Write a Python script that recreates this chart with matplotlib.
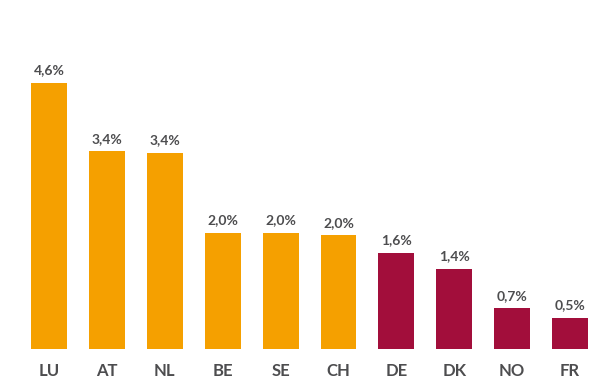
import matplotlib.pyplot as plt

plt.rcParams['font.family'] = ['Lato', 'DejaVu Sans']

countries = ['LU', 'AT', 'NL', 'BE', 'SE', 'CH', 'DE', 'DK', 'NO', 'FR']
values = [4.6, 3.42, 3.39, 2.01, 2.01, 1.97, 1.66, 1.39, 0.70, 0.54]
value_labels = ['4,6%', '3,4%', '3,4%', '2,0%', '2,0%', '2,0%', '1,6%', '1,4%', '0,7%', '0,5%']
groups = ['hi', 'hi', 'hi', 'hi', 'hi', 'hi', 'lo', 'lo', 'lo', 'lo']

ORANGE = '#F5A000'
CRIMSON = '#A20E3B'
TEXT = '#4d4d4f'

W, H = 612, 387
fig = plt.figure(figsize=(W / 100, H / 100), dpi=100)
base_px = 349
unit_px = 57.9
ax = fig.add_axes([0, (H - base_px) / H, 1, base_px / H])

colors = [ORANGE if g == 'hi' else CRIMSON for g in groups]
x = list(range(len(countries)))
bars = ax.bar(x, values, width=0.62, color=colors)

for b, lab in zip(bars, value_labels):
    ax.annotate(lab, (b.get_x() + b.get_width() / 2, b.get_height()),
                xytext=(0, 6), textcoords='offset points',
                ha='center', va='baseline', fontsize=10, fontweight='bold',
                color=TEXT)

ax.set_xlim(-49 / unit_px, (W - 49) / unit_px)
ax.set_ylim(0, base_px / unit_px)
ax.set_xticks(x)
ax.set_xticklabels(countries, fontsize=12, fontweight='bold', color=TEXT)
ax.tick_params(axis='x', length=0, pad=10)
ax.set_yticks([])
for s in ax.spines.values():
    s.set_visible(False)

fig.savefig('out.png', dpi=100)
